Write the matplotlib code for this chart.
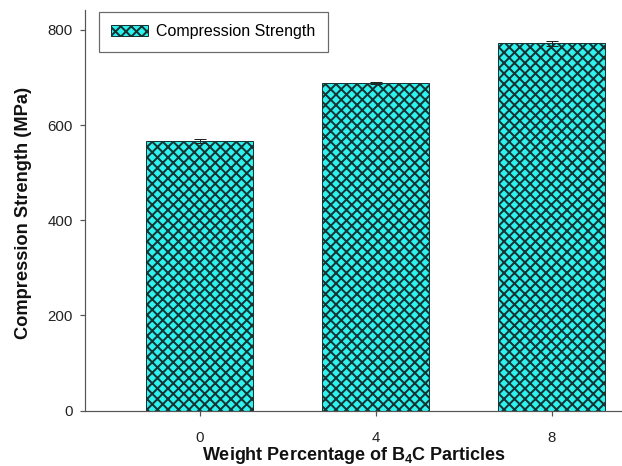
import matplotlib
matplotlib.use("Agg")
import matplotlib.pyplot as plt

categories = ["0", "4", "8"]
strength = [566, 689, 772]
errors = [4, 2, 5]

DPI = 126
W, H = 622, 466
def pt(px):
    return px * 72.0 / DPI

plt.rcParams['font.family'] = ['Liberation Sans', 'DejaVu Sans']
plt.rcParams['mathtext.fontset'] = 'custom'
plt.rcParams['mathtext.rm'] = 'Liberation Sans'
plt.rcParams['mathtext.bf'] = 'Liberation Sans:bold'
plt.rcParams['mathtext.default'] = 'bf'
plt.rcParams['hatch.linewidth'] = pt(2.0)

fig = plt.figure(figsize=(W / DPI, H / DPI), dpi=DPI)
ax = fig.add_axes([85 / W, (H - 410.5) / H, (W - 85) / W, (410.5 - 10) / H])

x = list(range(len(categories)))
ax.bar(x, strength, width=0.61, color='#2DF2EE', edgecolor='#173434',
       hatch='xxxx', linewidth=pt(1.0), zorder=2,
       label='Compression Strength')
ax.errorbar(x, strength, yerr=errors, fmt='none', ecolor='#222222',
            elinewidth=pt(1.0), capsize=pt(6), capthick=pt(1.0), zorder=3)

ax.set_xlim(-0.652, 2.40)
ax.set_ylim(0, 842)
ax.set_yticks([0, 200, 400, 600, 800])
ax.set_xticks(x)
ax.set_xticklabels(categories)

for s in ['top', 'right']:
    ax.spines[s].set_visible(False)
for s in ['left', 'bottom']:
    ax.spines[s].set_color('#555555')
    ax.spines[s].set_linewidth(pt(1.2))

ax.tick_params(axis='both', direction='out', length=pt(5), width=pt(1.2),
               color='#555555', labelsize=pt(15), labelcolor='#222222')
ax.tick_params(axis='y', pad=pt(7))
ax.tick_params(axis='x', pad=pt(15))

ax.set_xlabel(r'Weight Percentage of B$_4$C Particles', fontsize=pt(18),
              fontweight='bold', color='#111111', labelpad=pt(0))
ax.set_ylabel('Compression Strength (MPa)', fontsize=pt(18.3),
              fontweight='bold', color='#111111', labelpad=pt(16))
ax.yaxis.label.set_y(0.493)

leg = ax.legend(loc='upper left', bbox_to_anchor=(12 / (W - 85), 1.0),
                fontsize=pt(16), frameon=True, fancybox=False,
                handlelength=2.3, handleheight=0.7, borderpad=0.8,
                handletextpad=0.5, borderaxespad=0.1)
leg.get_frame().set_edgecolor('#444444')
leg.get_frame().set_linewidth(pt(1.2))

fig.savefig('out.png', dpi=DPI)
